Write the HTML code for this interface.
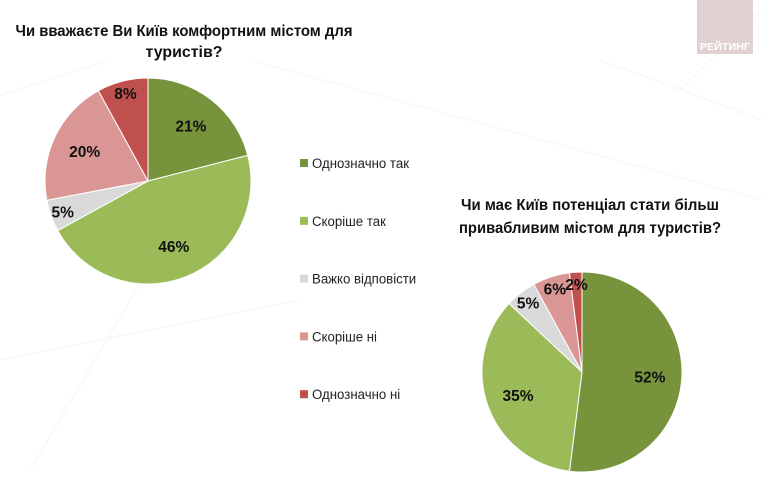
<!DOCTYPE html>
<html><head><meta charset="utf-8"><style>
html,body{margin:0;padding:0;background:#fff;}
svg{display:block;font-family:"Liberation Sans",sans-serif;}
</style></head><body>
<svg id="c" width="762" height="478" viewBox="0 0 762 478">
  <g stroke="#f6f4f4" stroke-width="1" fill="none">
    <line x1="0" y1="95" x2="110" y2="60"/><line x1="0" y1="360" x2="300" y2="300"/>
    <line x1="600" y1="60" x2="762" y2="120"/><line x1="680" y1="90" x2="762" y2="10"/>
    <line x1="250" y1="60" x2="762" y2="200"/><line x1="30" y1="470" x2="160" y2="250"/>
  </g>
  <g>
    <rect x="697" y="0" width="56" height="54" fill="#e2d1d2"/>
    <text x="725" y="50" text-anchor="middle" font-size="10" font-weight="bold" fill="#fff" textLength="50" lengthAdjust="spacingAndGlyphs">РЕЙТИНГ</text>
  </g>
  <g font-weight="bold" font-size="15.5" fill="#111" text-anchor="middle">
    <text x="184" y="36" textLength="337" lengthAdjust="spacingAndGlyphs">Чи вважаєте Ви Київ комфортним містом для</text>
    <text x="184" y="57" textLength="77" lengthAdjust="spacingAndGlyphs">туристів?</text>
  </g>
  <g font-weight="bold" font-size="15.5" fill="#111" text-anchor="middle">
    <text x="590" y="210" textLength="258" lengthAdjust="spacingAndGlyphs">Чи має Київ потенціал стати більш</text>
    <text x="590" y="233" textLength="262" lengthAdjust="spacingAndGlyphs">привабливим містом для туристів?</text>
  </g>
  <g id="pie1"></g>
  <g id="pie2"></g>
  <g id="legend"></g>
</svg>
<script>
const categories = ["Однозначно так","Скоріше так","Важко відповісти","Скоріше ні","Однозначно ні"];
const pie1Values = [21,46,5,20,8];
const pie2Values = [52,35,5,6,2];
const colors = ["#77933c","#9bbb59","#d9d9d9","#d99694","#c0504d"];
const NS="http://www.w3.org/2000/svg";
function mk(t,a){const e=document.createElementNS(NS,t);for(const k in a)e.setAttribute(k,a[k]);return e;}
function drawPie(gid,vals,cx,cy,r,prefix){
  const g=document.getElementById(gid);
  const total=vals.reduce((a,b)=>a+b,0);
  let a0=0;
  vals.forEach((v,i)=>{
    if(v<=0)return;
    const a1=a0+v/total*2*Math.PI;
    const x0=cx+r*Math.sin(a0),y0=cy-r*Math.cos(a0);
    const x1=cx+r*Math.sin(a1),y1=cy-r*Math.cos(a1);
    const large=(a1-a0)>Math.PI?1:0;
    const p=mk("path",{d:`M${cx},${cy}L${x0},${y0}A${r},${r} 0 ${large} 1 ${x1},${y1}Z`,fill:colors[i],stroke:"#fff","stroke-width":"1"});
    
    
    g.appendChild(p);
    const am=(a0+a1)/2;
    const f=v<10?0.88:0.68;
    const t=mk("text",{x:cx+f*r*Math.sin(am),y:cy-f*r*Math.cos(am)+6,"text-anchor":"middle","font-size":"15.5","font-weight":"bold",fill:"#111"});
    
    
    t.textContent=v+"%";
    g.appendChild(t);
    a0=a1;
  });
}
drawPie("pie1",pie1Values,148,181,103,"pie1");
drawPie("pie2",pie2Values,582,372,100,"pie2");
const lg=document.getElementById("legend");
categories.forEach((c,i)=>{
  const y=163+i*57.8;
  const s=mk("rect",{x:300,y:y-4,width:8,height:8,fill:colors[i]});
  
  
  lg.appendChild(s);
  const t=mk("text",{x:312,y:y+5,"font-size":"13.5",fill:"#222"});
  
  
  t.textContent=c;
  lg.appendChild(t);
  t.setAttribute("textLength",(t.getComputedTextLength()*0.98).toFixed(1));
  t.setAttribute("lengthAdjust","spacingAndGlyphs");
});
</script>
</body></html>
